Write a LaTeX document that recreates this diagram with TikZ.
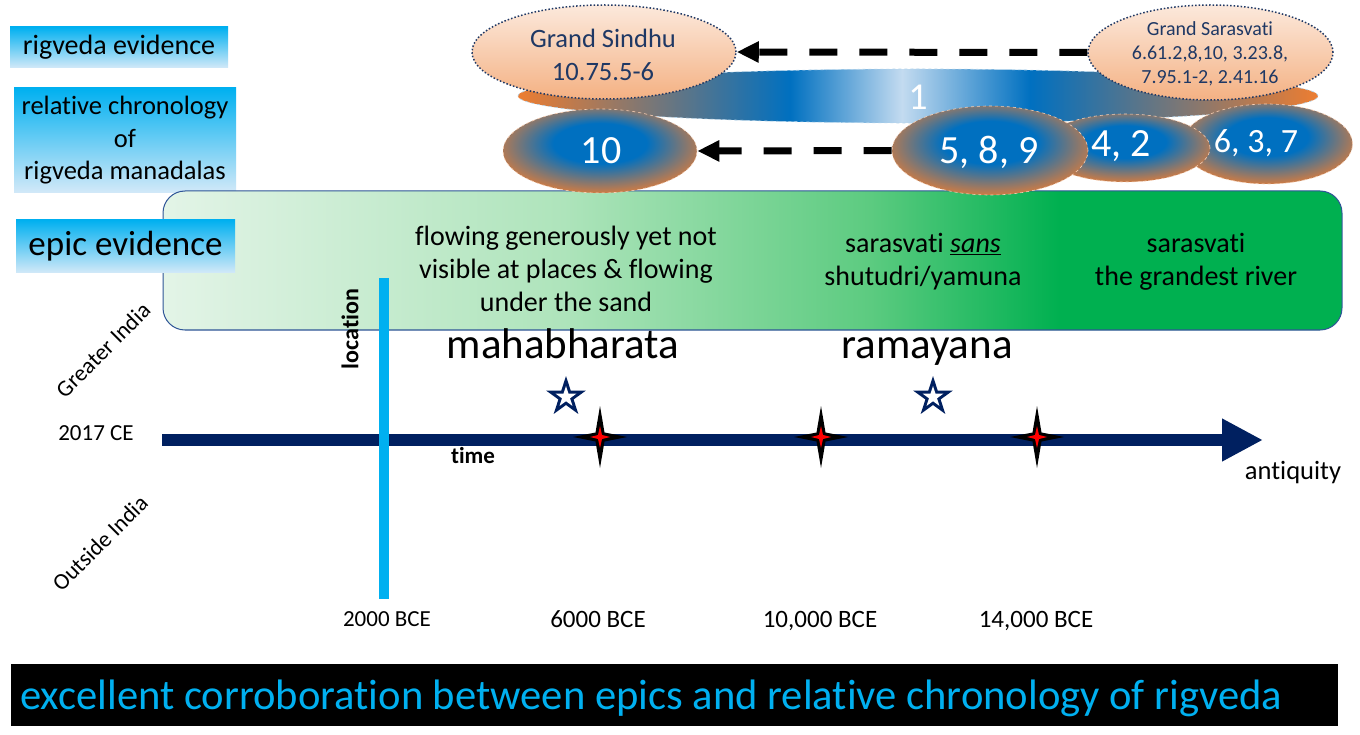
\documentclass[tikz,border=0pt]{standalone}
\usepackage{fontspec}
\setmainfont{Carlito}[Ligatures=NoCommon, RawFeature={-liga;-clig;-dlig}]
\usetikzlibrary{shapes.geometric,arrows.meta}
\definecolor{navy}{HTML}{002060}
\definecolor{navytxt}{HTML}{1F3864}
\definecolor{skyc}{HTML}{00B0F0}
\definecolor{skyl}{HTML}{D3E9F8}
\definecolor{orng}{HTML}{ED7D31}
\definecolor{blu}{HTML}{0070C0}
\definecolor{lblu}{HTML}{C3DBF0}
\definecolor{peachl}{HTML}{FCE9DC}
\definecolor{peachd}{HTML}{F4B183}
\definecolor{gra}{HTML}{E3F4E7}
\definecolor{grb}{HTML}{AEE4BB}
\definecolor{grc}{HTML}{5CCB80}
\definecolor{grd}{HTML}{00B050}
\definecolor{boxborder}{HTML}{2F5597}
\pgfdeclarehorizontalshading{bigone}{100bp}{color(0bp)=(orng); color(25bp)=(orng); color(42bp)=(blu); color(49bp)=(lblu); color(57bp)=(blu); color(75bp)=(orng); color(100bp)=(orng)}
\pgfdeclarehorizontalshading{greenband}{100bp}{color(0bp)=(gra); color(25bp)=(gra); color(42bp)=(grb); color(55bp)=(grc); color(63bp)=(grd); color(100bp)=(grd)}
\pgfdeclareradialshading{mandala}{\pgfpoint{0bp}{6bp}}{color(0bp)=(blu); color(12bp)=(blu); color(30bp)=(orng); color(50bp)=(orng)}
\newcommand\fsz[2]{\fontsize{#1}{#2}\selectfont}
\tikzset{
  cybox/.style={rectangle, inner sep=0, top color=skyc, bottom color=skyl, draw=none, text=black, align=center},
  txtg/.style={align=center, inner sep=0, font=\fsz{28}{33}},
  grandell/.style={ellipse, inner sep=0, draw=navytxt, dotted, line width=1.5, top color=peachl, bottom color=peachd},
  mand/.style={ellipse, inner sep=0, shade, shading=mandala, draw=peachd!60!white, dashed, line width=0.6},
  mandtxt/.style={text=white, inner sep=0},
  dasharrow/.style={line width=7, dash pattern=on 28 off 22, -{Triangle[length=22, width=20]}},
  lbl/.style={inner sep=0, font=\fsz{23}{27}},
  yearlbl/.style={inner sep=0, anchor=base, font=\fsz{25}{29}},
  spark/.pic={
    \fill[black] (0,-31)--(4.5,-4.5)--(27,0)--(4.5,4.5)--(0,31)--(-4.5,4.5)--(-27,0)--(-4.5,-4.5)--cycle;
    \fill[red] (0,-11)--(2,-2)--(10,0)--(2,2)--(0,11)--(-2,2)--(-10,0)--(-2,-2)--cycle;
  },
  fivestar/.pic={
    \fill[navy] (-90:21)--(-54:8)--(-18:21)--(18:8)--(54:21)--(90:8)--(126:21)--(162:8)--(198:21)--(234:8)--cycle;
    \fill[white] (-90:11)--(-54:4.2)--(-18:11)--(18:4.2)--(54:11)--(90:4.2)--(126:11)--(162:4.2)--(198:11)--(234:4.2)--cycle;
  }
}
\begin{document}
\begin{tikzpicture}[x=1pt,y=-1pt]
\useasboundingbox (0,0) rectangle (1360,735);
\fill[white] (0,0) rectangle (1360,735);

% left labels
\node[cybox, minimum width=218, minimum height=41, font=\fsz{28}{33}] (rv) at (119,47.5) {rigveda evidence};
\node[cybox, minimum width=222, minimum height=105, font=\fsz{26.5}{32.5}] (rc) at (125,140.5) {relative chronology\\of\\rigveda manadalas};

% green band
\node[rectangle, rounded corners=22, draw=boxborder, line width=1, shade, shading=greenband, minimum width=1179, minimum height=139, inner sep=0] (band) at (752.5,260.5) {};
\node[cybox, minimum width=219, minimum height=53, font=\fsz{35}{40}] (ee) at (125.5,246.5) {epic evidence};

\node[txtg] (t1) at (566,269) {flowing generously yet not\\visible at places \& flowing\\under the sand};
\node[txtg] (t2) at (923,262) {sarasvati \underline{\textit{sans}}\\shutudri/yamuna};
\node[txtg] (t3) at (1196,262) {sarasvati\\the grandest river};

% epics
\node[inner sep=0, anchor=base, font=\fsz{43}{47}] (maha) at (563,358.5) {mahabharata};
\node[inner sep=0, anchor=base, font=\fsz{43}{47}] (rama) at (927,358.5) {ramayana};

% mandala ellipses
\node[ellipse, inner sep=0, shade, shading=bigone, draw=white!70!blu, dashed, line width=0.6, minimum width=800, minimum height=54] (m1) at (918,96) {};
\node[mandtxt, font=\fsz{38}{40}] (m1t) at (918,97) {1};
\node[mand, minimum width=171, minimum height=80] (m6) at (1267,144) {};
\node[mandtxt, font=\fsz{34}{38}] (m6t) at (1256,143) {6, 3, 7};
\node[mand, minimum width=170, minimum height=68] (m4) at (1125,148) {};
\node[mandtxt, font=\fsz{40}{44}] (m4t) at (1121,146) {4, 2};
\node[mand, minimum width=196, minimum height=89] (m5) at (990,150.5) {};
\node[mandtxt, font=\fsz{40}{44}] (m5t) at (989,152) {5, 8, 9};
\node[mand, minimum width=194, minimum height=84] (m10) at (600,151) {};
\node[mandtxt, font=\fsz{40}{44}] (m10t) at (601,151) {10};

% grand rivers
\node[grandell, minimum width=264, minimum height=94] (sindhu) at (604,52) {};
\node[align=center, inner sep=0, text=navytxt, font=\fsz{26.5}{33}] (sindhut) at (603,55) {Grand Sindhu\\10.75.5-6};
\node[grandell, minimum width=245, minimum height=95] (sar) at (1210.5,52.5) {};
\node[align=center, inner sep=0, text=navytxt, font=\fsz{20}{24}] (sart) at (1210,54) {Grand Sarasvati\\6.61.2,8,10, 3.23.8,\\7.95.1-2, 2.41.16};

\draw[dasharrow] (sar.west) -- (sindhu.east);
\draw[dasharrow] (m5.west) -- (m10.east);

% axes
\coordinate (ax0) at (162,440);
\coordinate (ax1) at (1263,440);
\draw[line width=12.5, navy, -{Triangle[length=41, width=40]}] (ax0) -- (ax1);
\coordinate (lt) at (384,278);
\coordinate (lb) at (384,599);
\draw[line width=10, skyc] (lt) -- (lb);

\node[rotate=90, inner sep=0, font=\bfseries\fsz{24}{28}] (loc) at (350,329) {location};
\node[inner sep=0, font=\bfseries\fsz{23}{27}] (time) at (473,456) {time};
\node[lbl] (ce) at (96,433) {2017 CE};
\node[lbl, rotate=45] (gi) at (103,350) {Greater India};
\node[lbl, rotate=45] (oi) at (100,543) {Outside India};
\node[yearlbl, font=\fsz{23}{27}] (b2) at (387,626.5) {2000 BCE};
\node[yearlbl] (b6) at (598,627) {6000 BCE};
\node[yearlbl] (b10) at (820,627) {10,000 BCE};
\node[yearlbl] (b14) at (1036,627) {14,000 BCE};
\node[inner sep=0, font=\fsz{26.5}{30}] (anti) at (1293,473) {antiquity};

% markers
\pic at (566,397) {fivestar};
\pic at (933,397) {fivestar};
\pic at (600,437) {spark};
\pic at (821,437) {spark};
\pic at (1037,437) {spark};

% conclusion bar
\node[rectangle, fill=black, minimum width=1327, minimum height=62, inner sep=0] (bar) at (674.5,695) {};
\node[anchor=west, inner sep=0, text=skyc, font=\fsz{42.6}{46}] (bart) at (20,698) {excellent corroboration between epics and relative chronology of rigveda};
\end{tikzpicture}
\end{document}
